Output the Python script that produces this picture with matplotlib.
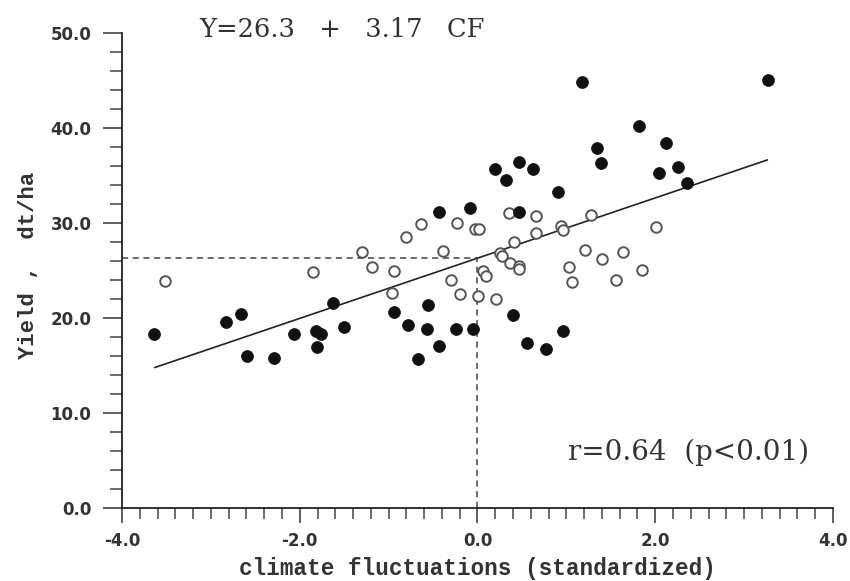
import matplotlib
matplotlib.use("Agg")
import matplotlib.pyplot as plt
import numpy as np
from matplotlib.ticker import MultipleLocator, FormatStrFormatter

# ---- data ----
filled_x = [-3.64, -2.83, -2.66, -2.59, -2.29, -2.06, -1.82, -1.76, -1.81, -1.63,
            -1.50, -0.94, -0.78, -0.56, -0.57, -0.43, -0.67, -0.24, -0.05, -0.43,
            -0.08, 0.20, 0.47, 0.62, 0.32, 0.91, 0.47, 0.40, 0.56, 0.77,
            0.96, 1.18, 3.27, 1.82, 1.34, 1.39, 2.12, 2.04, 2.26, 2.36]
filled_y = [18.3, 19.6, 20.4, 16.0, 15.8, 18.3, 18.6, 18.3, 16.9, 21.6,
            19.1, 20.6, 19.3, 21.4, 18.8, 17.1, 15.7, 18.8, 18.8, 31.2,
            31.6, 35.7, 36.4, 35.7, 34.5, 33.3, 31.2, 20.3, 17.4, 16.7,
            18.6, 44.8, 45.1, 40.2, 37.9, 36.3, 38.4, 35.3, 35.9, 34.2]

open_x = [-3.52, -1.85, -1.30, -1.19, -0.94, -0.96, -0.80, -0.64, -0.23, -0.03,
          0.02, -0.39, -0.30, -0.20, 0.01, 0.06, 0.10, 0.21, 0.25, 0.28,
          0.37, 0.47, 0.47, 0.41, 0.35, 0.66, 0.66, 0.94, 0.96, 1.28,
          2.01, 1.21, 1.40, 1.64, 1.03, 1.06, 1.56, 1.85]
open_y = [23.9, 24.8, 26.9, 25.4, 24.9, 22.6, 28.5, 29.9, 30.0, 29.4,
          29.4, 27.1, 24.0, 22.5, 22.3, 24.9, 24.4, 22.0, 26.8, 26.5,
          25.8, 25.5, 25.2, 28.0, 31.1, 30.7, 28.9, 29.7, 29.3, 30.8,
          29.6, 27.2, 26.2, 26.9, 25.4, 23.8, 24.0, 25.1]

intercept = 26.3
slope = 3.17
line_x = [-3.63, 3.26]

x_ticks = [-4.0, -2.0, 0.0, 2.0, 4.0]
y_ticks = [0.0, 10.0, 20.0, 30.0, 40.0, 50.0]

# ---- figure ----
fig = plt.figure(figsize=(8.5, 5.81), dpi=100)
ax = fig.add_axes([0.1435, 0.1256, 0.8365, 0.8176])

ink = "#222222"

# reference dashed lines
ax.plot([-4, 0], [intercept, intercept], ls=(0, (4, 3)), color="#444444", lw=1.1, zorder=1)
ax.plot([0, 0], [0, intercept], ls=(0, (4, 3)), color="#444444", lw=1.1, zorder=1)

# regression line
lx = np.array(line_x)
ax.plot(lx, intercept + slope * lx, color=ink, lw=1.2, zorder=2)

ax.plot(open_x, open_y, ls="none", marker="o", ms=7.6, mfc="white",
        mec="#555555", mew=1.4, zorder=3)
ax.plot(filled_x, filled_y, ls="none", marker="o", ms=8.6, mfc="#111111",
        mec="#111111", mew=0.5, zorder=4)

ax.set_xlim(-4, 4)
ax.set_ylim(0, 50)
ax.set_xticks(x_ticks)
ax.set_yticks(y_ticks)
ax.xaxis.set_minor_locator(MultipleLocator(0.2))
ax.yaxis.set_minor_locator(MultipleLocator(2))
ax.xaxis.set_major_formatter(FormatStrFormatter("%.1f"))
ax.yaxis.set_major_formatter(FormatStrFormatter("%.1f"))

for s in ["top", "right"]:
    ax.spines[s].set_visible(False)
for s in ["left", "bottom"]:
    ax.spines[s].set_linewidth(1.3)
    ax.spines[s].set_color(ink)

ax.tick_params(axis="y", which="major", direction="out", length=14, width=1.2,
               color="#444444", pad=8)
ax.tick_params(axis="y", which="minor", direction="out", length=9, width=1.1,
               color="#444444")
ax.tick_params(axis="x", which="major", direction="out", length=11, width=1.2,
               color="#444444", pad=6)
ax.tick_params(axis="x", which="minor", direction="out", length=8, width=1.1,
               color="#444444")
for lab in ax.get_xticklabels() + ax.get_yticklabels():
    lab.set_fontfamily("DejaVu Sans")
    lab.set_fontweight("bold")
    lab.set_fontsize(12)
    lab.set_color("#333333")

ax.set_xlabel("climate fluctuations (standardized)", fontsize=16.3,
              family="Liberation Mono", fontweight="bold", color="#333333", labelpad=5)
ax.set_ylabel("Yield ,  dt/ha", fontsize=16, family="Liberation Mono",
              fontweight="bold", color="#333333")
ax.yaxis.set_label_coords(-0.116, 0.51)

ax.text(-3.13, 50.4, "Y=26.3   +   3.17   CF", ha="left", va="center",
        fontsize=18.5, family="DejaVu Serif", color="#333333", clip_on=False)
ax.text(1.02, 5.9, "r=0.64  (p<0.01)", ha="left", va="center",
        fontsize=20, family="DejaVu Serif", color="#333333")

fig.savefig("out.png", dpi=100)
